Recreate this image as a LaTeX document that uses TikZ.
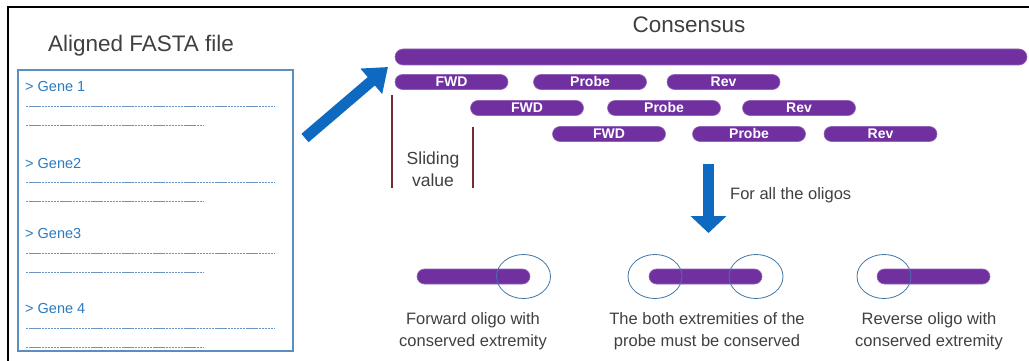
\documentclass[tikz,border=0pt]{standalone}
\usepackage{fontspec}
\setmainfont{Liberation Sans}
\usetikzlibrary{shapes.geometric,arrows.meta}
\definecolor{purp}{HTML}{7030A0}
\definecolor{arrblue}{HTML}{0E6AC0}
\definecolor{boxblue}{HTML}{5A8FBF}
\definecolor{genblue}{HTML}{2A7BC0}
\definecolor{dashblue}{HTML}{6A94C2}
\definecolor{txtgray}{HTML}{404040}
\definecolor{circblue}{HTML}{3F78A8}
\definecolor{slidered}{HTML}{7A2B2B}
\begin{document}
\begin{tikzpicture}[x=1pt,y=-1pt,
  pill/.style={fill=purp, draw=purp!75!white, line width=0.6pt, rounded corners=7.5pt,
    minimum width=113pt, minimum height=15pt, inner sep=0pt, text=white,
    text height=10pt, text depth=0pt,
    font=\fontsize{14}{14}\selectfont\bfseries},
  title/.style={text=txtgray, font=\fontsize{22.5}{27}\selectfont, inner sep=0pt},
  gene/.style={text=genblue, font=\fontsize{14.5}{16}\selectfont, inner sep=0pt, anchor=base west},
  caption/.style={text=txtgray, align=center, font=\fontsize{16.5}{21.5}\selectfont, inner sep=0pt},
  dashline/.style={draw=dashblue, line width=0.8pt, dash pattern=on 2.4pt off 0.7pt},
  ring/.style={ellipse, draw=circblue, line width=0.8pt, minimum width=54pt, minimum height=44pt, inner sep=0pt},
  bigarrow/.style={draw=arrblue, line width=11pt},
  slider/.style={draw=slidered, line width=2.8pt}
]
\useasboundingbox (0,0) rectangle (1029,361);
\fill[white] (0,0) rectangle (1029,361);
% frame
\draw[line width=1.5pt] (8,361) -- (8,7) -- (1029,7);

% left panel
\node[title, anchor=base] (fasta) at (141,52) {Aligned FASTA file};
\node[draw=boxblue, line width=1.2pt, minimum width=275pt, minimum height=281pt, inner sep=0pt] (box) at (155.5,210.5) {};
\node[gene] (g1) at (25,92) {> Gene 1};
\node[gene] (g2) at (25,168) {> Gene2};
\node[gene] (g3) at (25,238) {> Gene3};
\node[gene] (g4) at (25,313) {> Gene 4};
\foreach \y in {106,182,253,328}{
  \draw[dashline] (26,\y) -- (275,\y);
  \draw[dashline] (26,\y+19) -- (203,\y+19);
}

% big arrow
\coordinate (a1s) at (305,138);
\coordinate (a1e) at (388,67);
\draw[bigarrow, -{Triangle[width=32pt,length=22pt]}] (a1s) -- (a1e);

% consensus
\node[title, anchor=base] (cons) at (689,33) {Consensus};
\node[pill, minimum width=632pt, minimum height=16pt, rounded corners=8pt] (bar) at (711,57) {};

\node[pill] (f1) at (451.5,82) {FWD};
\node[pill] (p1) at (590,82) {Probe};
\node[pill] (r1) at (723.5,82) {Rev};
\node[pill] (f2) at (527,108) {FWD};
\node[pill] (p2) at (664,108) {Probe};
\node[pill] (r2) at (799,108) {Rev};
\node[pill] (f3) at (609,134) {FWD};
\node[pill] (p3) at (749,134) {Probe};
\node[pill] (r3) at (880.5,134) {Rev};

% sliding value
\coordinate (s1t) at (392,95);
\coordinate (s1b) at (392,188);
\coordinate (s2t) at (473,127);
\coordinate (s2b) at (473,188);
\draw[slider] (s1t) -- (s1b);
\draw[slider] (s2t) -- (s2b);
\node[text=txtgray, align=center, font=\fontsize{17.5}{22}\selectfont, inner sep=0pt] (slide) at (433,169) {Sliding\\value};

% down arrow
\coordinate (a2s) at (708.5,164);
\coordinate (a2e) at (708.5,233);
\draw[bigarrow, -{Triangle[width=35pt,length=17pt]}] (a2s) -- (a2e);
\node[text=txtgray, font=\fontsize{16.5}{20}\selectfont, inner sep=0pt, anchor=west] (all) at (730,195) {For all the oligos};

% bottom oligos
\node[pill] (bf) at (473.5,276.5) {};
\node[pill] (bp) at (705.5,276.5) {};
\node[pill] (br) at (933.5,276.5) {};
\node[ring] (cf) at (523.5,276.5) {};
\node[ring] (cp1) at (655,276.5) {};
\node[ring] (cp2) at (756,276.5) {};
\node[ring] (cr) at (884,276.5) {};

\node[caption] (tf) at (473,331) {Forward oligo with\\conserved extremity};
\node[caption] (tp) at (707,331) {The both extremities of the\\probe must be conserved};
\node[caption] (tr) at (929,331) {Reverse oligo with\\conserved extremity};
\end{tikzpicture}
\end{document}
